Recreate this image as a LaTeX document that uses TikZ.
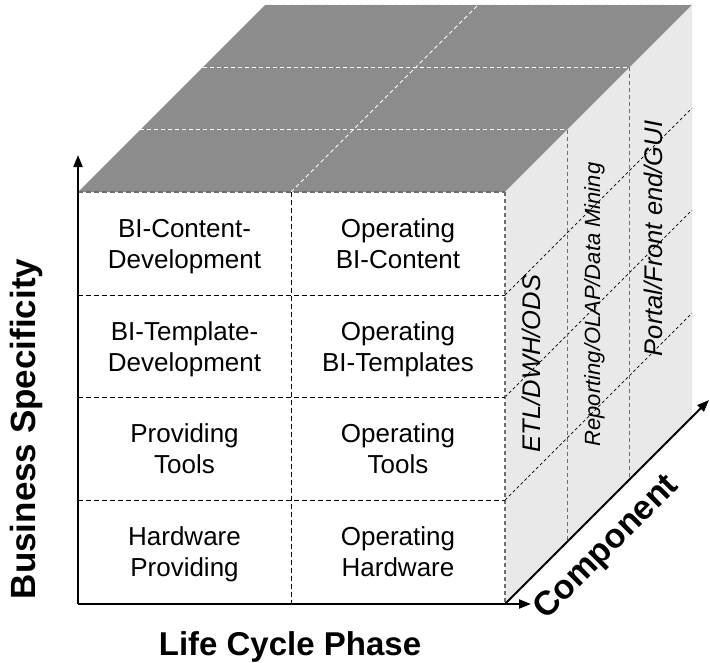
\documentclass[tikz,border=0pt]{standalone}
\usepackage{fontspec}
\setmainfont{Liberation Sans}
\usetikzlibrary{arrows.meta}

\definecolor{topgray}{HTML}{8C8C8C}
\definecolor{sidegray}{HTML}{E9E9E9}
\definecolor{edgegray}{HTML}{6E6E6E}

% two-line cell text with fixed height and depth
\newcommand\celltext[2]{\rule{0pt}{18.5bp}#1\\#2\rule[-6bp]{0pt}{6bp}}

\begin{document}
\begin{tikzpicture}[x=1bp,y=-1bp,
  cell/.style={align=center,font=\fontsize{26bp}{31.5bp}\selectfont},
  axislabel/.style={font=\fontsize{33bp}{36bp}\selectfont\bfseries,inner sep=0pt},
  sidelabel/.style={font=\itshape,rotate=90,anchor=base,inner sep=0pt},
  axis/.style={line width=2bp,-{Triangle[length=12bp,width=9bp]}},
  frontgrid/.style={black,line width=1bp,dash pattern=on 5bp off 3bp},
  frontedge/.style={edgegray,line width=2bp,dash pattern=on 5bp off 3bp},
  topgrid/.style={white,line width=1bp,dash pattern=on 4bp off 3bp},
  sidegrid/.style={edgegray,line width=1.5bp,dash pattern=on 4bp off 3bp},
  sidediag/.style={black,line width=0.7bp,dash pattern=on 3bp off 2.5bp},
]
\useasboundingbox (0,0) rectangle (710,663);

% cube corners
\coordinate (O)   at (78,604);
\coordinate (FTL) at (78,192);
\coordinate (FTM) at (291,192);
\coordinate (FBM) at (291,604);
\coordinate (FTR) at (505,192);
\coordinate (FBR) at (505,604);
\coordinate (BTL) at (265,5);
\coordinate (BTM) at (478,5);
\coordinate (BTR) at (692,5);
\coordinate (BBR) at (692,417);

% depth levels on the top and the right face
\coordinate (T1L) at (140.3,129.7);
\coordinate (T1R) at (567.3,129.7);
\coordinate (T2L) at (202.7,67.3);
\coordinate (T2R) at (629.7,67.3);
\coordinate (S1B) at (567.3,541.7);
\coordinate (S2B) at (629.7,479.3);

% row boundaries on the front face
\coordinate (R1L) at (78,295);  \coordinate (R1R) at (505,295);
\coordinate (R2L) at (78,397);  \coordinate (R2R) at (505,397);
\coordinate (R3L) at (78,500);  \coordinate (R3R) at (505,500);
\coordinate (D1) at (692,108);
\coordinate (D2) at (692,210);
\coordinate (D3) at (692,313);

% axis ends
\coordinate (Yend) at (78,155);
\coordinate (Xend) at (531,604);
\coordinate (Zend) at (709,400);

% faces
\fill[topgray] (FTL) -- (FTR) -- (BTR) -- (BTL) -- cycle;
\fill[sidegray] (FTR) -- (BTR) -- (BBR) -- (FBR) -- cycle;

% top face grid
\draw[topgrid] (T1L) -- (T1R);
\draw[topgrid] (T2L) -- (T2R);
\draw[topgrid] (FTM) -- (BTM);
\draw[topgrid] (BTL) -- (BTR);

% right face grid
\draw[sidediag] (R1R) -- (D1);
\draw[sidediag] (R2R) -- (D2);
\draw[sidediag] (R3R) -- (D3);
\draw[sidegrid] (T1R) -- (S1B);
\draw[sidegrid] (T2R) -- (S2B);
\draw[sidegrid] (FTR) -- (FBR);

% front face grid
\draw[frontgrid] (R1L) -- (R1R);
\draw[frontgrid] (R2L) -- (R2R);
\draw[frontgrid] (R3L) -- (R3R);
\draw[frontgrid] (FTM) -- (FBM);
\draw[frontedge] (FTL) -- (FTR);

% axes
\draw[axis] (O) -- (Yend);
\draw[axis] (O) -- (Xend);
\draw[axis] (FBR) -- (Zend);

% cells of the front face
\node[cell] (c11) at (184.5,246.5) {\celltext{BI-Content-}{Development}};
\node[cell] (c12) at (398,246.5)   {\celltext{Operating}{BI-Content}};
\node[cell] (c21) at (184.5,349.5) {\celltext{BI-Template-}{Development}};
\node[cell] (c22) at (398,349.5)   {\celltext{Operating}{BI-Templates}};
\node[cell] (c31) at (184.5,451.5) {\celltext{Providing}{Tools}};
\node[cell] (c32) at (398,451.5)   {\celltext{Operating}{Tools}};
\node[cell] (c41) at (184.5,554.5) {\celltext{Hardware}{Providing}};
\node[cell] (c42) at (398,554.5)   {\celltext{Operating}{Hardware}};

% components on the right face
\node[sidelabel,font=\fontsize{25.5bp}{30bp}\selectfont\itshape] (etl) at (540,363.5) {ETL/DWH/ODS};
\node[sidelabel,font=\fontsize{22bp}{26bp}\selectfont\itshape] (rep) at (600,304.5) {Reporting/OLAP/Data Mining};
\node[sidelabel,font=\fontsize{25.5bp}{30bp}\selectfont\itshape] (gui) at (662,238.5) {Portal/Front end/GUI};

% axis labels
\node[axislabel,anchor=base] (lcp) at (290,655) {Life Cycle Phase};
\node[axislabel,anchor=base,rotate=90,font=\fontsize{35bp}{38bp}\selectfont\bfseries] (bs) at (35,429) {Business Specificity};
\node[axislabel,anchor=base,rotate=45,font=\fontsize{34bp}{37bp}\selectfont\bfseries] (comp) at (613,554) {Component};
\end{tikzpicture}
\end{document}
